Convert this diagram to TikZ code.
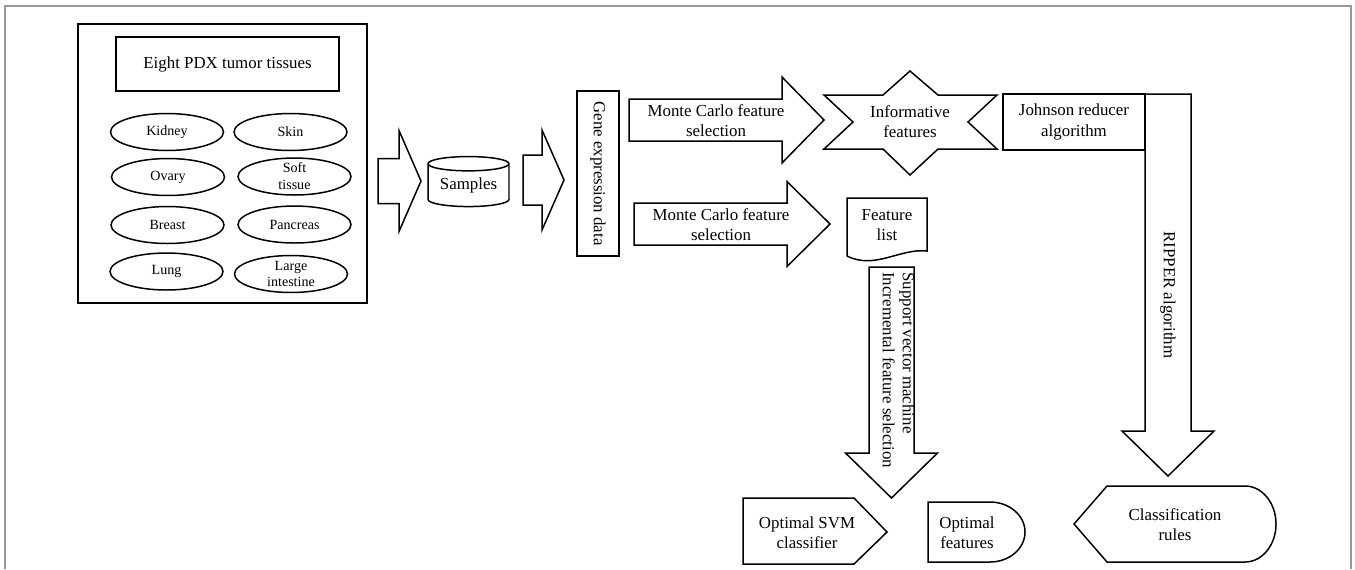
\documentclass[tikz,border=0pt]{standalone}
\usepackage{fontspec}
\setmainfont{Liberation Serif}
\usetikzlibrary{calc,positioning,shapes.geometric}

\tikzset{
  box/.style={draw, line width=0.85pt, align=center, inner sep=0pt},
  tissue/.style={draw, ellipse, line width=0.85pt, minimum width=2.26cm,
    minimum height=0.74cm, inner xsep=0pt, inner ysep=-8pt, align=center,
    font=\fontsize{8}{9.6}\selectfont},
  blockline/.style={line width=0.85pt, line join=miter},
  pics/rblock/.style n args={4}{code={
    \draw[blockline] (0,-#2) -- ({#1-#4},-#2) -- ({#1-#4},-#3) -- (#1,0)
      -- ({#1-#4},#3) -- ({#1-#4},#2) -- (0,#2) -- cycle;
  }},
}

\begin{document}
\begin{tikzpicture}[x=0.02cm, y=-0.02cm, font=\fontsize{9.6}{11.5}\selectfont]
\useasboundingbox (0,0) rectangle (1355,569);
\draw[black!40, line width=1.1pt] (5,569) -- (5,6) -- (1351,6) -- (1351,569);

% tumor tissues
\node[box, minimum width=5.78cm, minimum height=5.58cm] (pdx) at (222.5,163.5) {};
\node[box, minimum width=4.46cm, minimum height=1.08cm] (title) at (227.5,64) {Eight PDX tumor tissues};
\node[tissue] (kidney) at (167,132) {Kidney};
\node[tissue] (skin) at (290.5,132) {Skin};
\node[tissue] (ovary) at (168,177) {Ovary};
\node[tissue] (soft) at (294.5,176.5) {Soft\\tissue};
\node[tissue] (breast) at (167.5,225) {Breast};
\node[tissue] (pancreas) at (294.5,224.5) {Pancreas};
\node[tissue] (lung) at (166.5,271.5) {Lung};
\node[tissue] (intestine) at (291,274) {Large\\intestine};

\pic at (378,181) {rblock={43}{22.5}{50.5}{22}};
\node[draw, cylinder, shape border rotate=90, aspect=0.25, minimum width=1.62cm,
  minimum height=1cm, line width=0.85pt, inner sep=0pt] (samples) at (468.5,185.5) {Samples};
\pic at (523,180) {rblock={41}{25}{50}{22}};
\node[box, rotate=-90, minimum width=3.3cm, minimum height=0.84cm] (gene) at (598,173.5) {Gene expression data};

% upper branch
\pic at (629,120) {rblock={195}{21}{43}{42}};
\node[align=center] (mcup) at (716,121) {Monte Carlo feature\\selection};
\node[align=center, inner sep=0pt] (inform) at (910,122) {Informative\\features};
\draw[blockline, shift={(inform.center)}] (-86,-27) -- (-27,-27) -- (0,-51) -- (28,-27)
  -- (87,-27) -- (58,0) -- (87,27) -- (28,27) -- (0,53) -- (-27,27) -- (-86,27)
  -- (-57,0) -- cycle;
\node[box, minimum width=2.84cm, minimum height=1.12cm] (johnson) at (1074,122) {Johnson reducer\\algorithm};
\pic[rotate=-90] at (1168,94) {rblock={382}{23}{46}{45}};
\node[rotate=-90] (ripper) at (1168,295) {RIPPER algorithm};
\node[align=center] (rules) at (1175,525) {Classification\\rules};
\draw[blockline] (1074,524) -- (1107,486) -- (1245,486) arc(-90:90:31 and 38)
  -- (1107,562) -- cycle;

% lower branch
\pic at (634,224) {rblock={196}{21}{42.5}{43}};
\node[align=center] (mclow) at (721,225) {Monte Carlo feature\\selection};
\node[align=center] (flist) at (887,225) {Feature\\list};
\draw[blockline] (847,198) -- (927,198) -- (927,251) .. controls (900,248) and (875,270) .. (847,256) -- cycle;
\pic[rotate=-90] at (891.5,267) {rblock={231}{22.5}{46}{45}};
\node[rotate=-90, anchor=north west, align=left, inner sep=0pt] (svmtext) at (915,272)
  {Support vector machine\\Incremental feature selection};
\node[align=center] (svmclass) at (807,533) {Optimal SVM\\classifier};
\draw[blockline] (743,498) -- (854,498) -- (887,532) -- (854,564) -- (743,564) -- cycle;
\node[align=center] (optfeat) at (967,533) {Optimal\\features};
\draw[blockline] (928,502) -- (990,502) arc(-90:90:35 and 30) -- (928,562) -- cycle;
\end{tikzpicture}
\end{document}
